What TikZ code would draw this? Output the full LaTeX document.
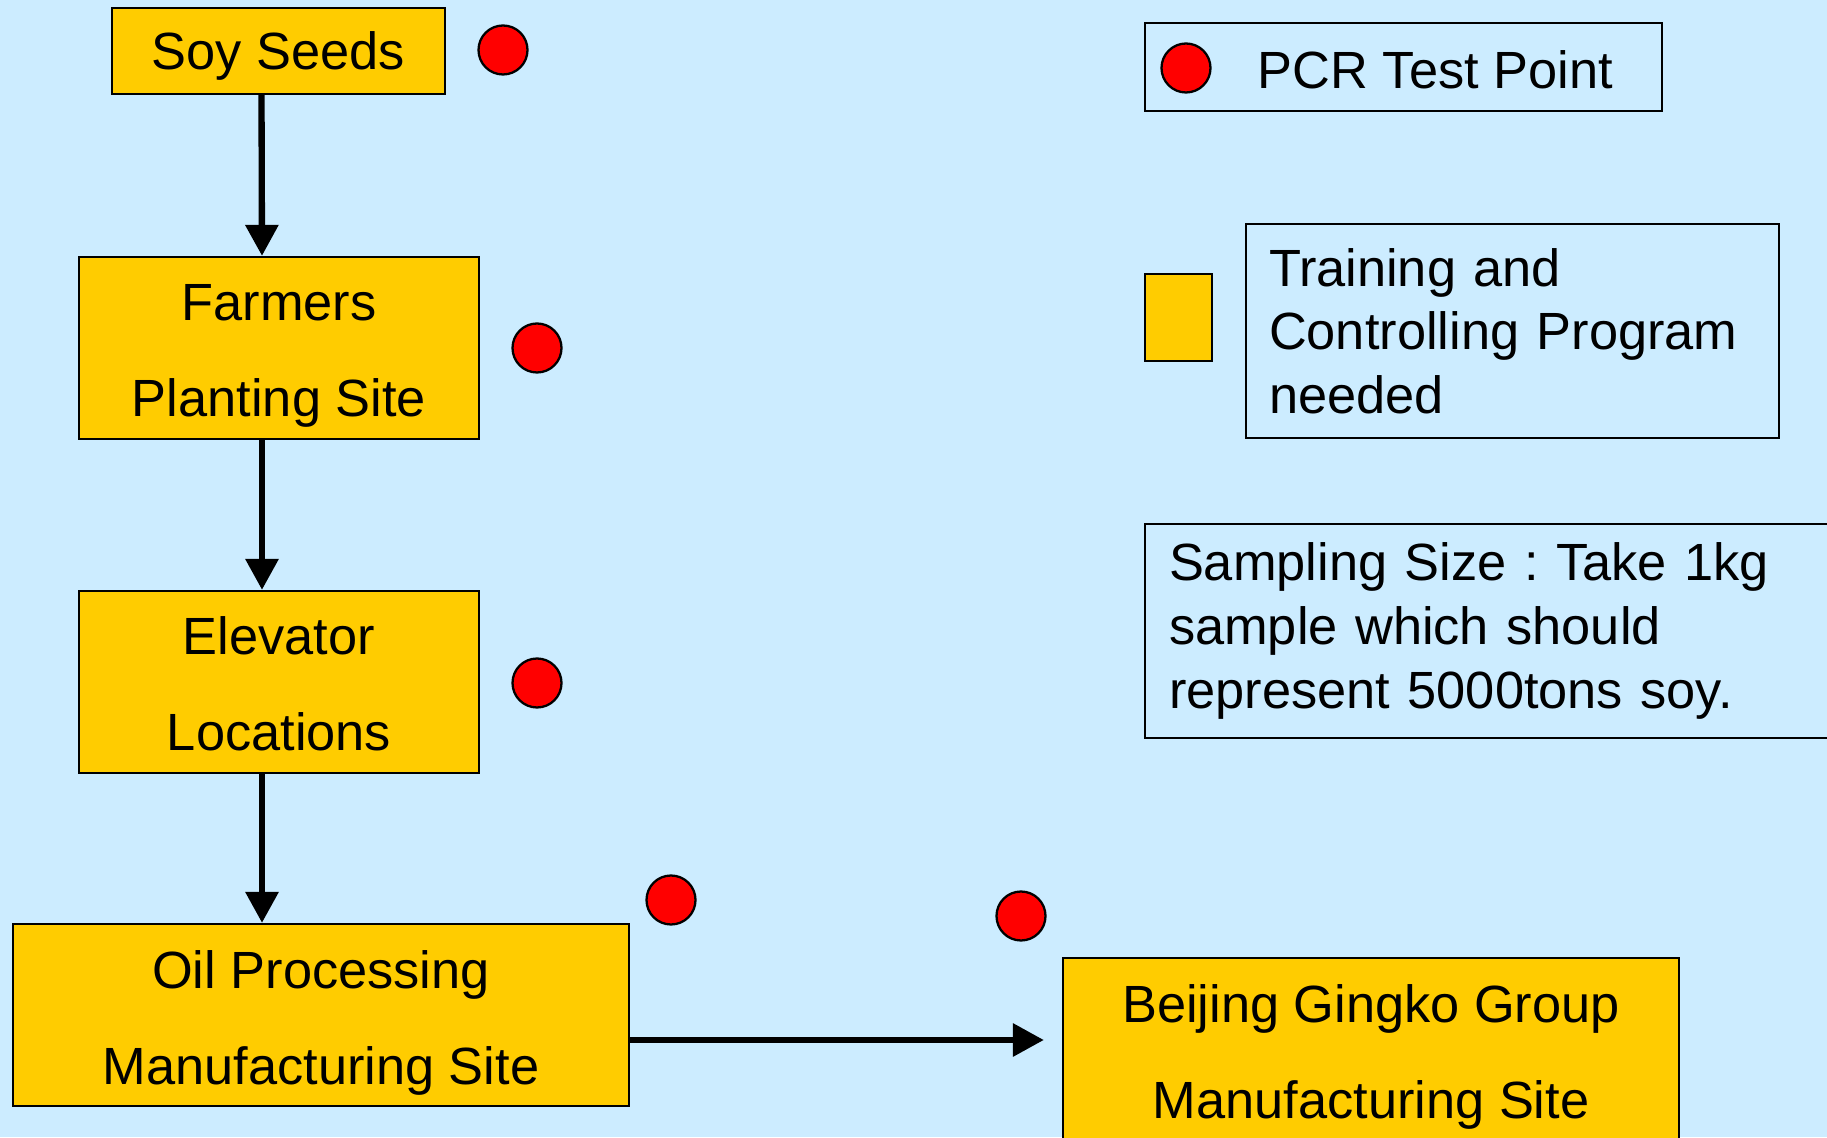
\documentclass[tikz,border=0pt]{standalone}
\usepackage{fontspec}
\setmainfont{Liberation Sans}
\usetikzlibrary{arrows.meta}
\definecolor{bgblue}{HTML}{CCECFF}
\definecolor{boxyellow}{HTML}{FFCC00}
\definecolor{pcrred}{HTML}{FF0000}
\frenchspacing
\tikzset{
  site/.style={draw=black, line width=0.65pt, fill=boxyellow, minimum height=1.82cm},
  sitetext/.style={align=center, inner sep=0pt, yshift=-0.8mm, font=\fontsize{14.9}{27.3}\selectfont},
  keybox/.style={draw=black, line width=0.65pt, align=left, inner xsep=0.23cm,
    minimum height=2.14cm, font=\fontsize{14.9}{18.1}\selectfont},
  testdot/.style={circle, draw=black, line width=0.65pt, fill=pcrred,
    minimum size=0.49cm, inner sep=0pt},
  flowarrow/.style={line width=1.8pt, -{Triangle[width=3.2mm,length=3.1mm]}},
}

\begin{document}
\begin{tikzpicture}
    \useasboundingbox (0,0) rectangle (18.27,11.37);
    \fill[bgblue] (0,0) rectangle (18.27,11.37);
    \clip (0,0) rectangle (18.27,11.37);

    % flow of the soy
    \node[site, minimum width=3.33cm, minimum height=0.86cm] (soy) at (2.785,10.86) {};
    \node[sitetext, yshift=0.3mm] (soytext) at (soy) {Soy Seeds};
    \node[site, minimum width=4cm] (farm) at (2.79,7.89) {};
    \node[sitetext] (farmtext) at (farm) {Farmers\\Planting Site};
    \node[site, minimum width=4cm] (elev) at (2.79,4.55) {};
    \node[sitetext, yshift=0.6mm] (elevtext) at (elev) {Elevator\\Locations};
    \node[site, minimum width=6.16cm] (oil) at (3.21,1.22) {};
    \node[sitetext] (oiltext) at (oil) {Oil Processing\\Manufacturing Site};
    \node[site, minimum width=6.16cm] (bj) at (13.71,0.88) {};
    \node[sitetext] (bjtext) at (bj) {Beijing Gingko Group\\Manufacturing Site};

    \draw[flowarrow] ([xshift=-1.7mm]soy.south) -- ([xshift=-1.7mm]farm.north);
    \draw[flowarrow] ([xshift=-1.7mm]farm.south) -- ([xshift=-1.7mm]elev.north);
    \draw[flowarrow] ([xshift=-1.7mm]elev.south) -- ([xshift=-1.7mm]elev.south |- oil.north);
    \draw[flowarrow] ([yshift=-2.5mm]oil.east) -- ([xshift=-1.8mm,yshift=-2.5mm]oil.east -| bj.west);

    % test points
    \node[testdot] (dsoy) at (5.03,10.87) {};
    \node[testdot] (dfarm) at (5.37,7.89) {};
    \node[testdot] (delev) at (5.37,4.54) {};
    \node[testdot] (doil) at (6.71,2.37) {};
    \node[testdot] (dbj) at (10.21,2.21) {};

    % legend
    \node[draw=black, line width=0.65pt, minimum width=5.17cm, minimum height=0.88cm] (pcrkey) at (14.035,10.70) {};
    \node[testdot] (pcrdot) at (11.86,10.69) {};
    \node[anchor=west, inner sep=0pt, font=\fontsize{14.9}{18.1}\selectfont] (pcrtext) at (12.57,10.67) {PCR Test Point};

    \node[draw=black, line width=0.65pt, fill=boxyellow, minimum width=0.67cm, minimum height=0.87cm] (trainsq) at (11.785,8.195) {};
    \node[keybox, text width=4.87cm] (trainkey) at (15.125,8.06) {Training and\\Controlling Program\\needed};

    \node[keybox, inner xsep=0.24cm, text width=6.62cm] (samplekey) at (15.0,5.06) {Sampling Size : Take 1kg\\sample which should\\represent 5000tons soy.};

\end{tikzpicture}
\end{document}
